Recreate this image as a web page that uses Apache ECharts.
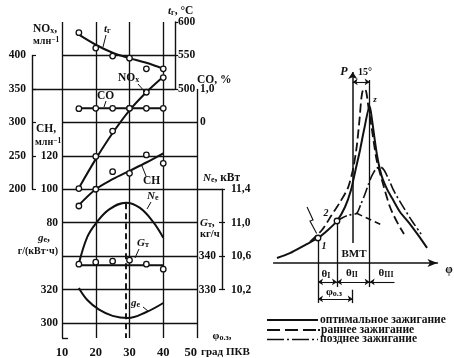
<!DOCTYPE html>
<html><head><meta charset="utf-8">
<script src="https://cdn.jsdelivr.net/npm/echarts@6/dist/echarts.min.js"></script>
<style>html,body{margin:0;padding:0;background:#fff}#c{width:454px;height:358px}</style>
</head><body><div id="c"></div>
<script>
// ================= DATA (left panel) =================
const angles    = [15, 20, 25, 30, 35, 40];           // φо.з, град ПКВ
const tgPoints  = [584, 561, 549, 546, 530, 530];      // t_г, °C
const tgLine    = [581, 566, 554, 546, 539, 530];
const noxPoints = [201, 249, 287, 321, 345, 367];      // NOx, млн-1
const noxLine   = [202, 245, 284, 318, 345, 368];
const coPoints  = [0.41, 0.42, 0.42, 0.42, 0.42, 0.42];// CO, %
const coLine    = [0.42, 0.42, 0.42, 0.42, 0.42, 0.42];
const chPoints  = [90, 100, 110.5, 109.5, 120.5, 115.5];// CH, млн-1
const chLine    = [90.5, 100, 106, 111, 116, 121.5];
const neAngles  = [15, 17.5, 20, 24, 29, 33, 37, 40];  // Ne, кВт
const neValues  = [10.51, 10.83, 10.99, 11.16, 11.24, 11.18, 11.01, 10.82];
const gtPoints  = [337.6, 338.2, 338.5, 338.8, 337.6, 336.1]; // Gт, кг/ч
const gtLine    = [337.3, 337.3, 337.3, 337.3, 337.3, 337.3];
const geAngles  = [15, 17.5, 21, 25, 29.5, 35, 40];    // ge, г/(кВт·ч)
const geValues  = [321, 313.8, 308, 304.3, 303, 306.6, 312];
const optimalAngle = 28.8;

// tick labels
const xTicks   = [10, 20, 30, 40, 50];
const trTicks  = [500, 550, 600];
const noxTicks = [200, 250, 300, 350, 400];
const coTicks  = [0, 1];
const chTicks  = [80, 100, 120];
const neTicks  = [10.2, 10.6, 11.0, 11.4];
const gtTicks  = [330, 340];
const geTicks  = [300, 320];

// ================= DATA (right panel: p–φ diagram) =================
const optimalPhi = [-67, -55.5, -42.2, -30.7, -21.9, -13.9, -6.8, -1.5, 2.5, 6.5, 10.0, 15, 17.1, 19.3, 21.5, 24.2, 26.8, 30.4, 34.8, 41.9, 50.7, 57.8, 65.8];
const optimalP   = [2.6, 5.2, 9.4, 13.1, 17.3, 22.0, 29.3, 38.2, 48.7, 59.2, 69.6, 82.2, 74.9, 65.4, 56.5, 48.7, 43.5, 38.7, 34.0, 26.7, 20.4, 14.7, 7.9];
const earlyPhi = [-37.8, -27.2, -18.6, -11.2, -4.2, 0.5, 3.5, 6.0, 7.8, 9.6, 11.8, 14.0, 16.8, 21.2, 27.1, 33.0, 39.2, 45.4];
const earlyP   = [11.0, 17.3, 25.1, 31.9, 39.3, 49.7, 60.7, 74.9, 86.9, 91.1, 90.1, 81.2, 70.7, 53.9, 40.8, 29.3, 21.5, 15.2];
const latePhi = [-13.9, -8.6, -3.3, 3.5, 7.3, 10.9, 14.0, 16.8, 20.6, 24.2, 27.7, 32.1, 36.5, 43.6, 52.5, 60.5];
const lateP   = [22.0, 23.8, 25.1, 26.0, 30.9, 36.1, 41.4, 45.5, 49.2, 50.4, 48.7, 43.5, 37.7, 30.4, 22.0, 15.2];
const motoringPhi = [3.5, 25.7];
const motoringP   = [26.0, 19.9];
const ignitionPoints = [[-30.7, 13.1], [-13.9, 22.0]];   // points 1 and 2
const tdcPhi = 0, zPhi = 15;
const legendNames = ['оптимальное зажигание', 'раннее зажигание', 'позднее зажигание'];

// ================= LAYOUT / STYLE =================
const INK = '#111';
const SERIF = '"Liberation Serif", "DejaVu Serif", serif';
const L = 62, W = 135, TOP = 22, ROW = 33.45, NROWS = 9.45;
const rowY = r => TOP + r * ROW;
const pxX = px => 10 + (px - L) / W * 40;
const zip = (xs, ys) => xs.map((x, i) => [x, ys[i]]);
const STYLE_OPT = {color: INK, width: 2};
const STYLE_EARLY = {color: INK, width: 1.8, type: [9, 4]};
const STYLE_LATE = {color: INK, width: 1.6, type: [11, 3, 2, 3]};

function leftGrid(r0, r1) {
  return {left: L, width: W, top: rowY(r0), height: (r1 - r0) * ROW, containLabel: false, outerBoundsMode: 'none'};
}
const grids = [
  leftGrid(0, NROWS), leftGrid(0, 2), leftGrid(1, 5), leftGrid(2, 3),
  leftGrid(4, 6), leftGrid(5, 8), leftGrid(7, 9),
  {left: 273.6, width: 163.85, top: 72, height: 191, containLabel: false, outerBoundsMode: 'none'}
];
const numLabel = {color: INK, fontFamily: SERIF, fontWeight: 'bold', fontSize: 11.5};
const comma = v => (v === 0) ? '0' : v.toFixed(1).replace('.', ',');

const xAxes = [];
for (let i = 0; i < 7; i++) {
  xAxes.push({
    gridIndex: i, type: 'value', min: 10, max: 50, interval: 10, show: i === 0,
    axisLine: {show: false}, axisTick: {show: false}, splitLine: {show: false},
    axisLabel: Object.assign({}, numLabel, {show: i === 0, margin: 8, fontSize: 12.5, alignMaxLabel: 'right', showMinLabel: true, showMaxLabel: true, customValues: xTicks})
  });
}
xAxes.push({gridIndex: 7, type: 'value', min: -70, max: 75,
  axisLine: {show: true, onZero: true, symbol: ['none', 'arrow'], symbolSize: [6, 10], lineStyle: {color: INK, width: 1.5}},
  axisTick: {show: false}, axisLabel: {show: false}, splitLine: {show: false}});

function yax(o) {
  return Object.assign({type: 'value', splitLine: {show: false}, axisLine: {show: false, lineStyle: {color: INK, width: 1.3}},
    axisTick: {show: false, lineStyle: {color: INK, width: 1.2}}}, o);
}
const yAxes = [
  yax({gridIndex: 0, min: 0, max: NROWS, inverse: true, show: false}),
  yax({gridIndex: 1, position: 'right', offset: -22, min: 500, max: 600,
    axisLine: {show: true, lineStyle: {color: INK, width: 1.4}},
    axisTick: {show: true, length: 3, customValues: trTicks, lineStyle: {color: INK, width: 1.2}},
    axisLabel: Object.assign({customValues: trTicks, margin: 3}, numLabel)}),
  yax({gridIndex: 2, position: 'left', offset: 30, min: 200, max: 400,
    axisLine: {show: true, lineStyle: {color: INK, width: 1.4}},
    axisTick: {show: true, inside: true, length: 4, customValues: noxTicks, lineStyle: {color: INK, width: 1.2}},
    axisLabel: Object.assign({customValues: noxTicks, margin: 6}, numLabel)}),
  yax({gridIndex: 3, position: 'right', min: 0, max: 1,
    axisLabel: Object.assign({customValues: coTicks, margin: 3, formatter: comma}, numLabel)}),
  yax({gridIndex: 4, position: 'left', min: 80, max: 120,
    axisLabel: Object.assign({customValues: chTicks, margin: 4}, numLabel)}),
  yax({gridIndex: 5, position: 'right', offset: 25, min: 10.2, max: 11.4,
    axisLine: {show: true, lineStyle: {color: INK, width: 1.4}},
    axisTick: {show: true, length: 3, customValues: neTicks, lineStyle: {color: INK, width: 1.2}},
    axisLabel: Object.assign({customValues: neTicks, margin: 9, formatter: comma}, numLabel)}),
  yax({gridIndex: 5, position: 'right', offset: 25, min: 330, max: 360,
    axisTick: {show: true, inside: true, length: 3, customValues: [330, 340, 350], lineStyle: {color: INK, width: 1.2}},
    axisLabel: Object.assign({customValues: gtTicks, inside: true, margin: 6}, numLabel)}),
  yax({gridIndex: 6, position: 'left', min: 300, max: 340,
    axisLabel: Object.assign({customValues: geTicks, margin: 4}, numLabel)}),
  yax({gridIndex: 7, min: 0, max: 100, show: false})
];

// ---- series helpers ----
function curve(name, xi, yi, data, extra) {
  return Object.assign({type: 'line', name, xAxisIndex: xi, yAxisIndex: yi, data, symbol: 'none', smooth: 0.35,
    clip: false, silent: true, animation: false, lineStyle: {color: INK, width: 2}, z: 4}, extra || {});
}
function pts(xi, yi, data) {
  return {type: 'scatter', xAxisIndex: xi, yAxisIndex: yi, data, symbol: 'circle', symbolSize: 5.5, clip: false,
    silent: true, animation: false, itemStyle: {color: '#fff', borderColor: INK, borderWidth: 1.3, opacity: 1}, z: 6};
}
function segs(xi, yi, list, style, symbol, extra) {
  return Object.assign({type: 'lines', coordinateSystem: 'cartesian2d', xAxisIndex: xi, yAxisIndex: yi,
    data: list.map(c => ({coords: c})),
    lineStyle: Object.assign({color: INK, width: 1.2, opacity: 1, curveness: 0}, style || {}),
    symbol: symbol || 'none', symbolSize: 6, clip: false, silent: true, animation: false, z: 3}, extra || {});
}

// frame of the left panel (grid index 0: x = angle, y = row)
const xTr = pxX(L + W - 22), xNox = pxX(L - 30), xNe = pxX(L + W + 25);
const frameSegs = [
  [[10, 0], [10, NROWS]], [[20, 0], [20, NROWS]], [[30, 0], [30, NROWS]], [[40, 0], [40, NROWS]], [[50, 2], [50, NROWS]],
  [[10, 1], [xTr, 1]], [[xNox, 2], [xTr, 2]], [[10, 3], [50, 3]], [[10, 4], [50, 4]], [[10, 5], [xNe, 5]],
  [[10, 6], [50, 6]], [[10, 7], [50, 7]], [[10, 8], [50, 8]], [[10, 9], [50, 9]],
  [[10, NROWS], [11.8, NROWS]]
];

const series = [
  segs(0, 0, frameSegs, {width: 1.35}),
  segs(0, 0, [[[optimalAngle, 5.42], [optimalAngle, NROWS]]], {width: 1.9, type: [6, 4]}),
  curve('tg', 1, 1, zip(angles, tgLine)), pts(1, 1, zip(angles, tgPoints)),
  curve('nox', 2, 2, zip(angles, noxLine), {smooth: 0.3}), pts(2, 2, zip(angles, noxPoints)),
  curve('co', 3, 3, zip(angles, coLine), {smooth: false}), pts(3, 3, zip(angles, coPoints)),
  curve('ch', 4, 4, zip(angles, chLine)), pts(4, 4, zip(angles, chPoints)),
  curve('ne', 5, 5, zip(neAngles, neValues), {smooth: 0.4}),
  curve('gt', 5, 6, zip(angles, gtLine), {smooth: false}), pts(5, 6, zip(angles, gtPoints)),
  curve('ge', 6, 7, zip(geAngles, geValues), {smooth: 0.4}),
  // right diagram
  curve(legendNames[0], 7, 8, zip(optimalPhi, optimalP), {smooth: 0.25, lineStyle: STYLE_OPT}),
  curve(legendNames[1], 7, 8, zip(earlyPhi, earlyP), {smooth: 0.25, lineStyle: STYLE_EARLY}),
  curve(legendNames[2], 7, 8, zip(latePhi, lateP), {smooth: 0.25, lineStyle: STYLE_LATE}),
  curve('motoring', 7, 8, zip(motoringPhi, motoringP), {smooth: false, lineStyle: {color: INK, width: 1.6, type: [6, 4]}}),
  pts(7, 8, ignitionPoints),
  segs(7, 8, [
    [[ignitionPoints[0][0], ignitionPoints[0][1]], [ignitionPoints[0][0], -20.9]],
    [[ignitionPoints[1][0], ignitionPoints[1][1]], [ignitionPoints[1][0], -12.6]],
    [[zPhi, 95.8], [zPhi, -12.6]],
    [[tdcPhi, -14], [tdcPhi, -21]]
  ], {width: 1.3}),
  segs(7, 8, [[[tdcPhi, 10.5], [tdcPhi, 100]]], {width: 1.5}, ['none', 'arrow'], {symbolSize: 7}),
  segs(7, 8, [
    [[tdcPhi, 94.8], [zPhi, 94.8]],
    [[ignitionPoints[0][0], -9.9], [ignitionPoints[1][0], -9.9]],
    [[ignitionPoints[1][0], -9.9], [zPhi, -9.9]],
    [[ignitionPoints[0][0], -18.8], [tdcPhi, -18.8]]
  ], {width: 1.1}, ['arrow', 'arrow'], {symbolSize: 5}),
  segs(7, 8, [[[37, -9.9], [zPhi, -9.9]]], {width: 1.1}, ['none', 'arrow'], {symbolSize: 5}),
  segs(7, 8, [[[-40.4, 29.3], [-35.1, 22.5], [-37.8, 22.0], [-31.9, 15.5]]], {width: 1.1}, ['none', 'arrow'], {symbolSize: 5, polyline: true})
];

// ---- text annotations ----
function rs(size, extra) { return Object.assign({fontSize: size, fontFamily: SERIF, fontWeight: 'bold', fill: INK}, extra || {}); }
const RICH = {
  s: rs(8, {verticalAlign: 'bottom', padding: [3, 0, 0, 0]}),
  p: rs(7.5, {verticalAlign: 'top'}),
  i: rs(12, {fontStyle: 'italic'}),
  ii: rs(11, {fontStyle: 'italic'})
};
function txt(text, x, y, o) {
  return {type: 'text', x, y, silent: true, z: 20,
    style: Object.assign({text, fill: INK, fontFamily: SERIF, fontSize: 11.5, fontWeight: 'bold', align: 'left', verticalAlign: 'middle', rich: RICH}, o || {})};
}
function ln(x1, y1, x2, y2, dash, w) {
  return {type: 'line', silent: true, z: 20, shape: {x1, y1, x2, y2}, style: {stroke: INK, lineWidth: w || 1, lineDash: dash || null}};
}
const graphics = [
  txt('NO{s|x},', 33, 29), txt('млн{p|−1}', 33, 41, {fontSize: 10}),
  txt('CH,', 36, 129), txt('млн{p|−1}', 35, 142, {fontSize: 10}),
  txt('{ii|g}{s|e},', 38, 238), txt('г/(кВт·ч)', 58, 251, {align: 'right', fontSize: 10}),
  txt('{ii|t}{s|г}, °C', 168, 11),
  txt('CO, %', 197, 80),
  txt('{ii|N}{s|e}, кВт', 203, 178),
  txt('{ii|G}{s|т},', 200, 223), txt('кг/ч', 200, 234, {fontSize: 10.5}),
  txt('φ{s|о.з},', 222, 336, {align: 'center', fontSize: 11}), txt('град ПКВ', 201, 352, {fontSize: 11}),
  // curve labels
  txt('{ii|t}{s|г}', 104, 29), ln(106, 35, 103, 47),
  txt('NO{s|x}', 118, 78), ln(138, 84, 145, 92),
  txt('CO', 97, 96), ln(106, 101, 104, 107),
  txt('CH', 143, 181), ln(146, 176, 142, 166),
  txt('{ii|N}{s|e}', 147, 196), ln(151, 202, 147, 209),
  txt('{ii|G}{s|т}', 137, 243), ln(139, 249, 135, 258),
  txt('{ii|g}{s|e}', 131, 303), ln(143, 307, 148, 311),
  // right diagram labels
  txt('{i|P}', 344, 72, {align: 'center'}),
  txt('15°', 365, 72, {align: 'center', fontSize: 10}),
  txt('z', 375, 100, {align: 'center', fontSize: 9, fontStyle: 'italic'}),
  txt('1', 324, 246, {align: 'center', fontSize: 10, fontStyle: 'italic'}),
  txt('2', 326, 213, {align: 'center', fontSize: 10, fontStyle: 'italic'}),
  txt('BMT', 354, 254, {align: 'center', fontSize: 11}),
  txt('θ{s|I}', 326, 274, {align: 'center', fontSize: 11}),
  txt('θ{s|II}', 352, 273, {align: 'center', fontSize: 11}),
  txt('θ{s|III}', 386, 273, {align: 'center', fontSize: 11}),
  txt('φ{s|о.з}', 334, 292, {align: 'center', fontSize: 11}),
  txt('φ', 449, 270, {align: 'center', fontSize: 12}),
  // legend
  ln(267, 320, 318, 320, null, STYLE_OPT.width), txt(legendNames[0], 320, 320, {fontSize: 11.5}),
  ln(267, 330, 320, 330, [13, 5, 13, 5, 13, 2, 3, 0], STYLE_EARLY.width), txt(legendNames[1], 321, 330, {fontSize: 11.5}),
  ln(267, 339.5, 318, 339.5, [17, 3, 2, 3], STYLE_LATE.width), txt(legendNames[2], 320, 339.5, {fontSize: 11.5})
];

const chart = echarts.init(document.getElementById('c'), null, {renderer: 'canvas'});
chart.setOption({
  backgroundColor: '#fff',
  animation: false,
  grid: grids,
  xAxis: xAxes,
  yAxis: yAxes,
  series,
  graphic: graphics
});
</script></body></html>
